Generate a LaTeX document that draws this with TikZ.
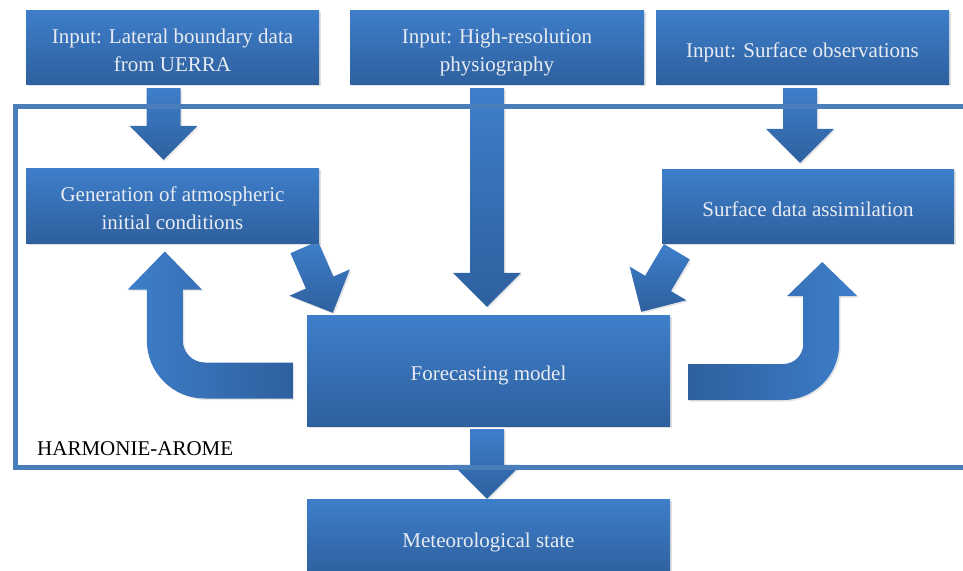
\documentclass[tikz,border=0pt]{standalone}
\usepackage{fontspec}
\setmainfont{Liberation Serif}
\usepackage{tikz}
\usetikzlibrary{%
        calc,
        backgrounds,
        shadows
    }
\definecolor{boxtop}{RGB}{62, 126, 202}
\definecolor{boxbot}{RGB}{46, 96, 158}
\definecolor{boxtext}{RGB}{232, 236, 242}
\definecolor{framecol}{RGB}{74, 126, 187}
\tikzset{%
    stagebox/.style={%
        rectangle, inner sep=0pt, minimum height=74pt, align=center,
        top color=boxtop, bottom color=boxbot, text=boxtext,
        font=\fontsize{21}{28}\selectfont,
        execute at begin node={\rule{0pt}{#1}},
        execute at end node={\rule[-5pt]{0pt}{5pt}},
        drop shadow={shadow xshift=2pt, shadow yshift=-2pt, opacity=0.25}
    },
    stagebox/.default=25.6pt,
    arrowfill/.style={%
        top color=boxtop, bottom color=boxbot,
        drop shadow={shadow xshift=1.5pt, shadow yshift=-1.5pt, opacity=0.2}
    },
    framebox/.style={draw=framecol, line width=5pt}
}
% #1 tail, #2 tip, #3 half shaft, #4 half head, #5 head length
\newcommand{\blockarrow}[5]{%
    \coordinate (ba-h) at ($(#2)!#5!(#1)$);
    \path[arrowfill]
        ($(#1)!#3!90:(#2)$) --
        ($(ba-h)!#3!90:(#2)$) --
        ($(ba-h)!#4!90:(#2)$) --
        (#2) --
        ($(ba-h)!#4!-90:(#2)$) --
        ($(ba-h)!#3!-90:(#2)$) --
        ($(#1)!#3!-90:(#2)$) --
        cycle;
}

\begin{document}
\begin{tikzpicture}[x=1pt, y=1pt]

    \path[use as bounding box, clip] (0, 0) rectangle (963, -570);

    \node[stagebox=53.6pt, minimum width=293pt] (in1) at (172.5, -47)
        {Input: Lateral boundary data\\from UERRA};
    \node[stagebox=53.6pt, minimum width=294pt] (in2) at (497, -47)
        {Input: High-resolution\\physiography};
    \node[stagebox, minimum width=293pt] (in3) at (802.5, -47)
        {Input: Surface observations};

    \node[stagebox=53.6pt, minimum width=293pt, minimum height=75pt] (gen) at (172.5, -205.5)
        {Generation of atmospheric\\initial conditions};
    \node[stagebox, minimum width=292pt] (sda) at (808, -206)
        {Surface data assimilation};

    \node[stagebox, minimum width=363pt, minimum height=111pt] (fcm) at (488.5, -370.5)
        {Forecasting model};
    \node[stagebox, minimum width=363pt, minimum height=76pt] (met) at (488.5, -537)
        {Meteorological state};

    \begin{pgfonlayer}{background}
        \coordinate (a1s) at ([xshift=-9pt, yshift=-4pt]in1.south);
        \coordinate (a1e) at ([yshift=8pt]gen.north -| a1s);
        \coordinate (a2s) at ([xshift=-10pt, yshift=-4pt]in2.south);
        \coordinate (a2e) at ([yshift=8pt]fcm.north -| a2s);
        \coordinate (a3s) at ([xshift=-2.5pt, yshift=-4pt]in3.south);
        \coordinate (a3e) at ([yshift=6pt]sda.north -| a3s);
        \coordinate (a4s) at ([xshift=-1.5pt, yshift=-3pt]fcm.south);
        \coordinate (a4e) at (met.north -| a4s);
        \coordinate (d1s) at ([xshift=-15pt, yshift=-4pt]gen.south east);
        \coordinate (d1e) at ([xshift=26pt, yshift=2pt]fcm.north west);
        \coordinate (d2s) at ([xshift=15pt, yshift=-8.5pt]sda.south west);
        \coordinate (d2e) at ([xshift=-29pt, yshift=3pt]fcm.north east);

        \foreach \from/\to in {a1s/a1e, a2s/a2e, a3s/a3e, a4s/a4e} {%
            \blockarrow{\from}{\to}{17pt}{34pt}{34pt}
        };
        \blockarrow{d1s}{d1e}{15pt}{33pt}{33pt}
        \blockarrow{d2s}{d2e}{15pt}{33pt}{33pt}

        % turning arrows back to the two assimilation steps
        \coordinate (lu) at ([xshift=-14pt, yshift=-10pt]fcm.west);
        \path[left color=boxtop, right color=boxbot,
            drop shadow={shadow xshift=1.5pt, shadow yshift=-1.5pt, opacity=0.2}]
            (lu) ++(0, 18) --
            ++(-88, 0) arc[start angle=270, end angle=180, radius=22] --
            ++(0, 51) -- ++(19, 0) -- ++(-37, 38) -- ++(-37, -38) -- ++(19, 0) --
            ++(0, -51) arc[start angle=180, end angle=270, radius=58] --
            ++(88, 0) --
            cycle;
        \coordinate (ru) at ([xshift=18pt, yshift=-11.5pt]fcm.east);
        \path[left color=boxbot, right color=boxtop,
            drop shadow={shadow xshift=1.5pt, shadow yshift=-1.5pt, opacity=0.2}]
            (ru) ++(0, 18) --
            ++(95, 0) arc[start angle=270, end angle=360, radius=20] --
            ++(0, 48) -- ++(-16, 0) -- ++(35, 34) -- ++(35, -34) -- ++(-18, 0) --
            ++(0, -48) arc[start angle=0, end angle=-90, radius=56] --
            ++(-95, 0) --
            cycle;
    \end{pgfonlayer}

    \draw[framebox] (15, -106) rectangle (980, -467);
    \node[anchor=base west, inner sep=0pt, font=\fontsize{21}{24}\selectfont]
        (harm) at (37, -455) {HARMONIE-AROME};

\end{tikzpicture}
\end{document}
